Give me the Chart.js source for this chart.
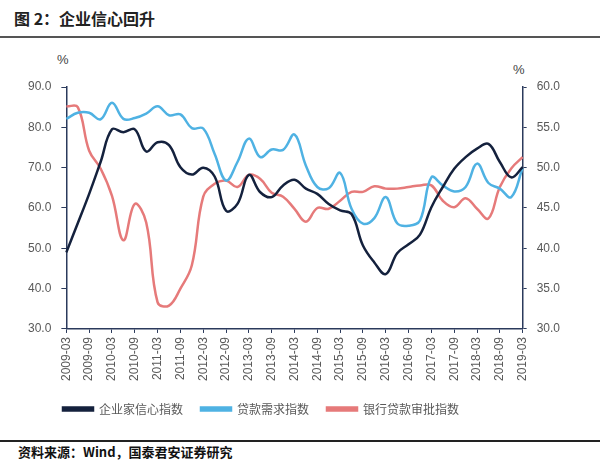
<!DOCTYPE html>
<html>
<head>
<meta charset="utf-8">
<script src="https://cdn.jsdelivr.net/npm/chart.js@4.4.1/dist/chart.umd.min.js"></script>
<style>
  body { margin: 0; width: 600px; height: 471px; background: #fff; position: relative; overflow: hidden;
         font-family: "Noto Sans CJK SC", "Noto Sans", sans-serif; }
  #title { position: absolute; left: 14px; top: 6px; font-size: 16px; font-weight: bold; color: #222; }
  #topLine { position: absolute; left: 0; top: 36px; width: 600px; height: 2px; background: #555; }
  .pct { position: absolute; font-size: 13px; color: #444; font-family: "Liberation Sans", sans-serif; }
  #wrap { position: absolute; left: 0; top: 45px; width: 600px; height: 388px; }
  #botLine { position: absolute; left: 0; top: 440px; width: 600px; height: 2px; background: #222; }
  #source { position: absolute; left: 18px; top: 442px; font-size: 13px; font-weight: bold; color: #111; }
</style>
</head>
<body>
<div id="title">图 2：企业信心回升</div>
<div id="topLine"></div>
<div class="pct" style="left:57px; top:52px;">%</div>
<div class="pct" style="left:513px; top:62px;">%</div>
<div id="wrap"><canvas id="chart"></canvas></div>
<div id="botLine"></div>
<div id="source">资料来源：Wind，国泰君安证券研究</div>

<script>
// 季度
const quarters = [
  '2009-03','2009-06','2009-09','2009-12','2010-03','2010-06','2010-09','2010-12',
  '2011-03','2011-06','2011-09','2011-12','2012-03','2012-06','2012-09','2012-12',
  '2013-03','2013-06','2013-09','2013-12','2014-03','2014-06','2014-09','2014-12',
  '2015-03','2015-06','2015-09','2015-12','2016-03','2016-06','2016-09','2016-12',
  '2017-03','2017-06','2017-09','2017-12','2018-03','2018-06','2018-09','2018-12',
  '2019-03'
];

// 企业家信心指数 (左轴)
const confidence = [
  49.0, 56.2, 63.5, 71.4, 79.5, 78.8, 79.5, 74.0, 76.3, 75.6, 70.1, 68.3, 70.0, 67.8,
  59.3, 61.0, 68.2, 63.9, 62.7, 65.6, 67.0, 64.8, 63.5, 61.0, 59.4, 58.5, 50.7, 46.5,
  43.6, 48.8, 51.0, 53.4, 60.2, 65.2, 69.7, 72.6, 74.7, 75.9, 71.4, 67.6, 70.1
];

// 贷款需求指数 (左轴)
const loanDemand = [
  82.1, 83.6, 83.6, 82.0, 86.1, 82.1, 82.3, 83.4, 85.2, 83.0, 83.2, 79.8, 79.7, 73.4,
  66.8, 71.4, 77.2, 72.6, 74.5, 74.4, 78.2, 70.5, 65.2, 64.9, 68.7, 59.8, 56.1, 57.5,
  62.7, 56.2, 55.6, 56.9, 67.6, 65.6, 64.1, 65.2, 71.0, 66.2, 64.8, 62.7, 69.9
];

// 银行贷款审批指数 (右轴)
const loanApproval = [
  57.6, 57.5, 52.1, 49.9, 46.5, 41.0, 45.5, 43.2, 33.3, 32.9, 35.0, 37.9, 46.4, 48.0,
  48.4, 47.6, 49.1, 48.6, 46.9, 46.4, 44.9, 43.3, 45.0, 44.9, 45.9, 47.0, 47.0, 47.7,
  47.4, 47.4, 47.6, 47.8, 47.8, 45.9, 45.1, 46.2, 44.9, 43.7, 47.6, 49.9, 51.3
];

const axisColor = '#2b3a5c';
const tickColor = '#595959';

function makeSet(label, data, color, axis) {
  return {
    label, data, yAxisID: axis,
    borderColor: color, backgroundColor: color,
    borderWidth: 2.5, tension: 0.4, pointRadius: 0, fill: false
  };
}

// place la légende comme dans l'original
const legendShift = {
  id: 'legendShift',
  afterLayout(chart) {
    if (chart.legend) chart.legend.left = 45;
  }
};

new Chart(document.getElementById('chart'), {
  type: 'line',
  data: {
    labels: quarters,
    datasets: [
      makeSet('企业家信心指数', confidence, '#14213d', 'y'),
      makeSet('贷款需求指数', loanDemand, '#4fb2e3', 'y'),
      makeSet('银行贷款审批指数', loanApproval, '#e67a7a', 'y1')
    ]
  },
  plugins: [legendShift],
  options: {
    responsive: true,
    maintainAspectRatio: false,
    animation: false,
    layout: { padding: { left: 18, right: 30, top: 42, bottom: 8 } },
    plugins: {
      tooltip: { enabled: false },
      legend: {
        position: 'bottom',
        align: 'start',
        labels: {
          boxWidth: 30, boxHeight: 3, padding: 18, color: tickColor,
          font: { family: '"Noto Sans CJK SC", sans-serif', size: 12 }
        }
      }
    },
    scales: {
      x: {
        border: { color: axisColor, width: 1.5 },
        grid: {
          drawOnChartArea: false, tickLength: 4,
          color: ctx => (ctx.index % 2 === 0 ? axisColor : 'rgba(0,0,0,0)')
        },
        ticks: {
          autoSkip: false, maxRotation: 90, minRotation: 90, padding: 4,
          color: tickColor, font: { family: '"Liberation Sans", sans-serif', size: 12 },
          callback: function(val, i) { return i % 2 === 0 ? this.getLabelForValue(val) : ''; }
        }
      },
      y: {
        position: 'left', min: 30, max: 90,
        border: { color: axisColor, width: 1.5 },
        grid: { drawOnChartArea: false, tickLength: 5, color: axisColor },
        ticks: {
          stepSize: 10, padding: 10, color: tickColor,
          font: { family: '"Liberation Sans", sans-serif', size: 12 },
          callback: v => v.toFixed(1)
        }
      },
      y1: {
        position: 'right', min: 30, max: 60,
        border: { color: axisColor, width: 1.5 },
        grid: { drawOnChartArea: false, tickLength: 4, color: axisColor },
        ticks: {
          stepSize: 5, padding: 10, color: tickColor,
          font: { family: '"Liberation Sans", sans-serif', size: 12 },
          callback: v => v.toFixed(1)
        }
      }
    }
  }
});
</script>
</body>
</html>
